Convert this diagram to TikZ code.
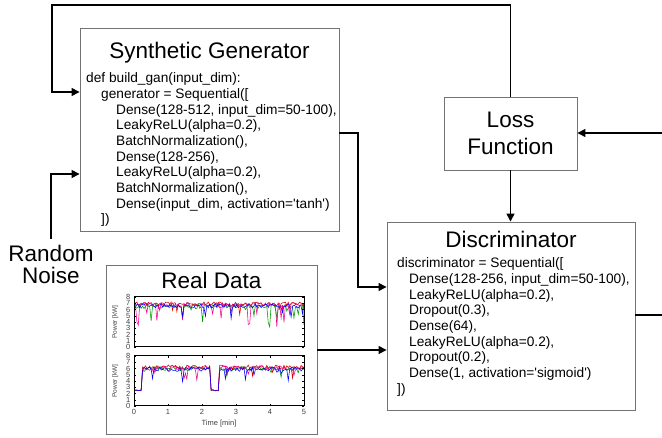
\documentclass[tikz,border=0pt]{standalone}
\usepackage{fontspec}
\setmainfont{Liberation Sans}
\usetikzlibrary{arrows.meta}
\begin{document}
\begin{tikzpicture}[x=1pt,y=-1pt,
  box/.style={draw=black!55, line width=0.9pt, fill=white, inner sep=0pt},
  conn/.style={line width=1.4pt, -{Triangle[length=8pt,width=8pt]}},
  wire/.style={line width=1.4pt},
  title/.style={font=\fontsize{22.5}{27}\selectfont, inner sep=0pt},
  code/.style={font=\fontsize{13.7}{15.7}\selectfont, align=left, inner sep=0pt, anchor=north west},
  tick/.style={font=\fontsize{7.5}{8}\selectfont, inner sep=0pt, text=black!75},
  trace/.style={line width=0.55pt}
]
\useasboundingbox (0,0) rectangle (662,438);

% ---- boxes ----
\node[box, minimum width=259pt, minimum height=203pt] (gen) at (209.5,129.5) {};
\node[box, minimum width=133pt, minimum height=73pt, align=center,
      font=\fontsize{22.5}{27}\selectfont] (loss) at (510.5,133.5) {Loss\\Function};
\node[box, minimum width=248pt, minimum height=188pt] (disc) at (511,316) {};
\node[box, minimum width=211pt, minimum height=169pt] (real) at (211.5,349.5) {};

% ---- titles ----
\node[title, anchor=base] (gentitle) at (209.5,59) {Synthetic Generator};
\node[title, anchor=base] (disctitle) at (511,248) {Discriminator};
\node[title, anchor=base] (realtitle) at (211.5,289) {Real Data};
\node[title, align=center, font=\fontsize{22.5}{22}\selectfont] (noise) at (51,264.5) {Random\\Noise};

% ---- code listings ----
\node[code] (gencode) at (86,72.5) {%
def build\_gan(input\_dim):\\
\hspace*{15pt}generator = Sequential([\\
\hspace*{30pt}Dense(128-512, input\_dim=50-100),\\
\hspace*{30pt}LeakyReLU(alpha=0.2),\\
\hspace*{30pt}BatchNormalization(),\\
\hspace*{30pt}Dense(128-256),\\
\hspace*{30pt}LeakyReLU(alpha=0.2),\\
\hspace*{30pt}BatchNormalization(),\\
\hspace*{30pt}Dense(input\_dim, activation=\textquotesingle tanh\textquotesingle)\\
\hspace*{15pt}])};

\node[code] (disccode) at (397,257.5) {%
discriminator = Sequential([\\
\hspace*{12pt}Dense(128-256, input\_dim=50-100),\\
\hspace*{12pt}LeakyReLU(alpha=0.2),\\
\hspace*{12pt}Dropout(0.3),\\
\hspace*{12pt}Dense(64),\\
\hspace*{12pt}LeakyReLU(alpha=0.2),\\
\hspace*{12pt}Dropout(0.2),\\
\hspace*{12pt}Dense(1, activation=\textquotesingle sigmoid\textquotesingle)\\
])};

% ---- power traces ----
\pgfmathsetseed{17}
% upper panel
\begin{scope}[shift={(134,347)}, x=34pt, y=6.25pt]
  \begin{scope}
    \clip (0,0) rectangle (5,8);
    \draw[trace, green!60!black] plot[domain=0:5, samples=120] (\x, {6.5+0.35*rand-(rnd>0.9)*3*rnd});
    \draw[trace, red!85!black] plot[domain=0:5, samples=120] (\x, {6.9+0.3*rand-(rnd>0.95)*2*rnd});
    \draw[trace, magenta] plot[domain=0:5, samples=120] (\x, {6.8+0.35*rand-(rnd>0.88)*3.5*rnd});
    \draw[trace, blue] plot[domain=0:5, samples=120] (\x, {6.6+0.35*rand-(rnd>0.93)*3*rnd});
  \end{scope}
  \draw[line width=1pt] (0,0) rectangle (5,8);
  \foreach \v in {0,...,8} {
    \draw[line width=0.3pt] (0,\v) -- ++(0.07,0) (5,\v) -- ++(-0.07,0);
    \node[tick, anchor=east] at (-0.1,\v) {\v};
  }
  \node[tick, rotate=90, font=\fontsize{6.5}{7}\selectfont] at (-0.55,4) {Power [kW]};
\end{scope}
% lower panel
\begin{scope}[shift={(134,406)}, x=34pt, y=6.25pt]
  \begin{scope}
    \clip (0,0) rectangle (5,8);
    \foreach \c/\lvl in {green!60!black/6.0, red!85!black/6.2, magenta/6.1, blue/5.9} {
      \draw[trace, \c] plot[domain=0:5, samples=120]
        (\x, {(\x<0.22 || (\x>2.25 && \x<2.5)) ? 2.5+0.1*rand : \lvl+0.35*rand-(rnd>0.93)*2*rnd});
    }
  \end{scope}
  \draw[line width=1pt] (0,0) rectangle (5,8);
  \foreach \v in {0,...,8} {
    \draw[line width=0.3pt] (0,\v) -- ++(0.07,0) (5,\v) -- ++(-0.07,0);
    \node[tick, anchor=east] at (-0.1,\v) {\v};
  }
  \foreach \v in {0,...,5} {
    \draw[line width=0.3pt] (\v,0) -- ++(0,0.3) (\v,8) -- ++(0,-0.3);
    \node[tick, anchor=north] at (\v,-0.5) {\v};
  }
  \node[tick, rotate=90, font=\fontsize{6.5}{7}\selectfont] at (-0.55,4) {Power [kW]};
  \node[tick] (timelabel) at (2.5,-2.75) {Time [min]};
\end{scope}

% ---- connector helpers ----
\coordinate (fbtop) at (0,5);
\coordinate (fbx) at (52,0);
\coordinate (fbin) at (0,92);
\coordinate (nzin) at (0,174);
\coordinate (gdout) at (0,133);
\coordinate (gdx) at (358,0);
\coordinate (gdin) at (0,287);
\coordinate (rdin) at (0,350);
\coordinate (dout) at (662,315);
\coordinate (lossin) at (662,133);

% ---- connectors ----
\draw[conn] (loss.north) |- (fbx |- fbtop) |- (gen.west |- fbin);
\draw[conn] ([yshift=6pt]noise.north) |- (gen.west |- nzin);
\draw[conn] (gen.east |- gdout) -| (gdx |- gdin) -- (disc.west |- gdin);
\draw[conn] (real.east |- rdin) -- (disc.west |- rdin);
\draw[conn] (loss.south) -- (loss.south |- disc.north);
\draw[wire] (disc.east |- dout) -- (dout);
\draw[conn] (lossin) -- (loss.east |- lossin);
\end{tikzpicture}
\end{document}
